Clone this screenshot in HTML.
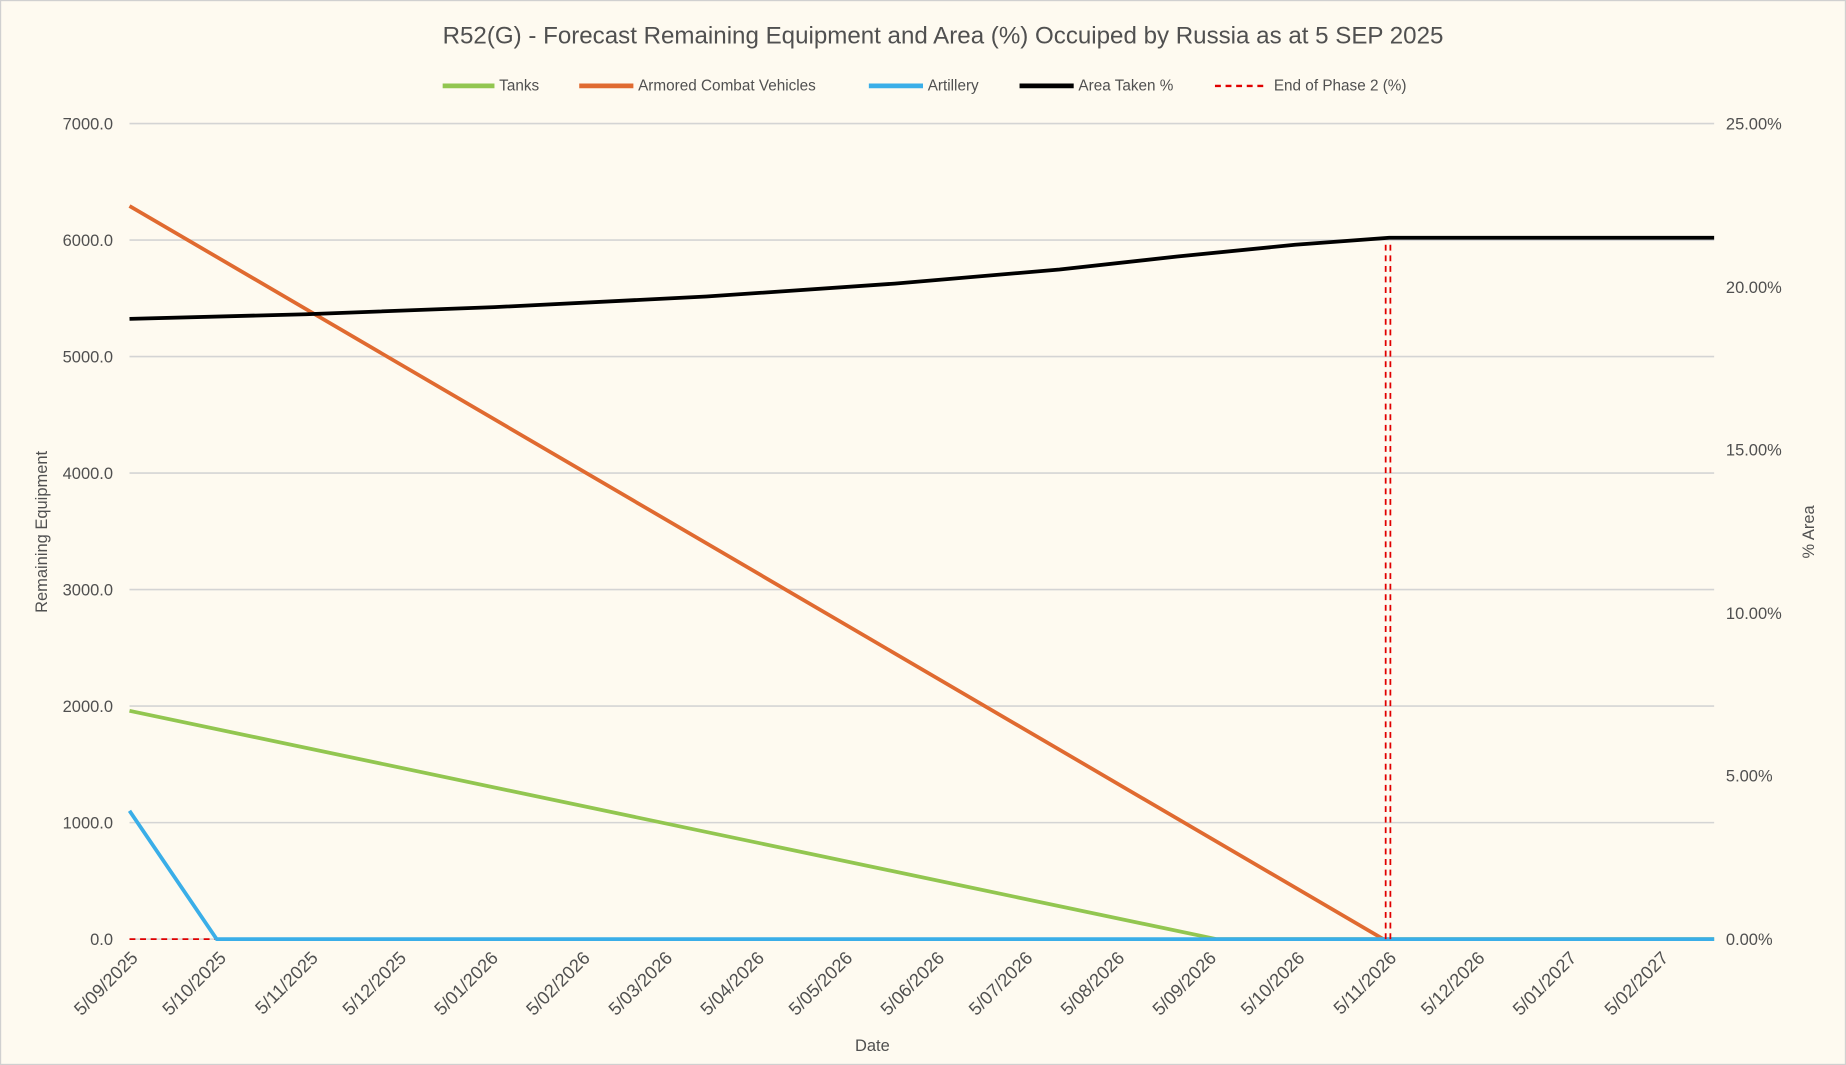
<!DOCTYPE html>
<html><head><meta charset="utf-8"><style>
html,body{margin:0;padding:0;background:#fefaf0;}
svg{display:block;font-family:"Liberation Sans",sans-serif;}
</style></head><body>
<svg width="1846" height="1065" viewBox="0 0 1568 905" preserveAspectRatio="none">
<rect x="0" y="0" width="1568" height="905" fill="#fefaf0" stroke="#d0d0d0" stroke-width="2"/>
<text x="801" y="37" text-anchor="middle" font-size="20.5" fill="#505050">R52(G) - Forecast Remaining Equipment and Area (%) Occuiped by Russia as at 5 SEP 2025</text>
<g font-size="13" fill="#505050">
<line x1="376" y1="73" x2="420" y2="73" stroke="#92c650" stroke-width="4"/><text x="424" y="77">Tanks</text>
<line x1="492" y1="73" x2="538" y2="73" stroke="#e06a30" stroke-width="4"/><text x="542" y="77">Armored Combat Vehicles</text>
<line x1="738" y1="73" x2="784" y2="73" stroke="#3aaee8" stroke-width="4"/><text x="788" y="77">Artillery</text>
<line x1="866" y1="73" x2="912" y2="73" stroke="#000" stroke-width="4"/><text x="916" y="77">Area Taken %</text>
<line x1="1032" y1="73" x2="1076" y2="73" stroke="#e00000" stroke-width="2" stroke-dasharray="5,4"/><text x="1082" y="77">End of Phase 2 (%)</text>
</g>
<g stroke="#d4d4d4" stroke-width="1.3">
<line x1="110" x2="1456" y1="105" y2="105"/><line x1="110" x2="1456" y1="204" y2="204"/>
<line x1="110" x2="1456" y1="303" y2="303"/><line x1="110" x2="1456" y1="402" y2="402"/>
<line x1="110" x2="1456" y1="501" y2="501"/><line x1="110" x2="1456" y1="600" y2="600"/>
<line x1="110" x2="1456" y1="699" y2="699"/><line x1="110" x2="1456" y1="798" y2="798"/>
</g>
<g font-size="14" fill="#505050" text-anchor="end">
<text x="96" y="110">7000.0</text><text x="96" y="209">6000.0</text><text x="96" y="308">5000.0</text>
<text x="96" y="407">4000.0</text><text x="96" y="506">3000.0</text><text x="96" y="605">2000.0</text>
<text x="96" y="704">1000.0</text><text x="96" y="803">0.0</text>
</g>
<g font-size="14" fill="#505050" text-anchor="start">
<text x="1466" y="110">25.00%</text><text x="1466" y="249">20.00%</text><text x="1466" y="387">15.00%</text>
<text x="1466" y="526">10.00%</text><text x="1466" y="664">5.00%</text><text x="1466" y="803">0.00%</text>
</g>
<text transform="translate(40,452) rotate(-90)" text-anchor="middle" font-size="14" fill="#505050">Remaining Equipment</text>
<text transform="translate(1541,452) rotate(-90)" text-anchor="middle" font-size="14" fill="#505050">% Area</text>
<text x="741" y="893" text-anchor="middle" font-size="14" fill="#505050">Date</text>
<g font-size="15.5" fill="#505050" text-anchor="end">
<text transform="translate(118,815) rotate(-45)">5/09/2025</text>
<text transform="translate(193,815) rotate(-45)">5/10/2025</text>
<text transform="translate(271,815) rotate(-45)">5/11/2025</text>
<text transform="translate(346,815) rotate(-45)">5/12/2025</text>
<text transform="translate(424,815) rotate(-45)">5/01/2026</text>
<text transform="translate(502,815) rotate(-45)">5/02/2026</text>
<text transform="translate(572,815) rotate(-45)">5/03/2026</text>
<text transform="translate(650,815) rotate(-45)">5/04/2026</text>
<text transform="translate(725,815) rotate(-45)">5/05/2026</text>
<text transform="translate(803,815) rotate(-45)">5/06/2026</text>
<text transform="translate(878,815) rotate(-45)">5/07/2026</text>
<text transform="translate(956,815) rotate(-45)">5/08/2026</text>
<text transform="translate(1034,815) rotate(-45)">5/09/2026</text>
<text transform="translate(1109,815) rotate(-45)">5/10/2026</text>
<text transform="translate(1187,815) rotate(-45)">5/11/2026</text>
<text transform="translate(1262,815) rotate(-45)">5/12/2026</text>
<text transform="translate(1340,815) rotate(-45)">5/01/2027</text>
<text transform="translate(1418,815) rotate(-45)">5/02/2027</text>
</g>
<g fill="none" stroke-linejoin="round">
<line x1="110" y1="798" x2="1180" y2="798" stroke="#e00000" stroke-width="1.5" stroke-dasharray="5,4"/>
<polyline points="110,604 1033,798 1456,798" stroke="#92c650" stroke-width="3.2"/>
<polyline points="110,175 1175,798" stroke="#e06a30" stroke-width="3.2"/>
<polyline points="110,689 184,798 1456,798" stroke="#3aaee8" stroke-width="3.2"/>
<path d="M110,271 L260,267 L420,261 L600,252 L760,241 L900,229 L1000,218 L1100,208 L1180,202 L1456,202" stroke="#000" stroke-width="3.2"/>
<line x1="1177" y1="798" x2="1177" y2="204" stroke="#e00000" stroke-width="1.5" stroke-dasharray="5,4"/>
<line x1="1181" y1="798" x2="1181" y2="204" stroke="#e00000" stroke-width="1.5" stroke-dasharray="5,4"/>
</g>
</svg>
</body></html>
